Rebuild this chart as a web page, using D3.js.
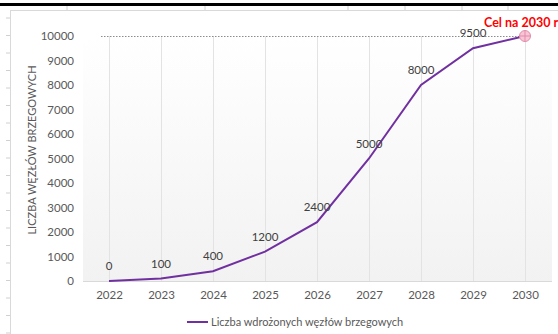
<!DOCTYPE html>
<html>
<head>
<meta charset="utf-8">
<script src="https://cdn.jsdelivr.net/npm/d3@7"></script>
<style>
  html, body { margin: 0; padding: 0; background: #fff; }
  svg { display: block; font-family: Lato, "Open Sans", sans-serif; }
</style>
</head>
<body>
<div id="chart"></div>
<script>
  var years = ['2022', '2023', '2024', '2025', '2026', '2027', '2028', '2029', '2030'];
  var nodes = [0, 100, 400, 1200, 2400, 5000, 8000, 9500, 10000];
  var yTicks = [0, 1000, 2000, 3000, 4000, 5000, 6000, 7000, 8000, 9000, 10000];
  var target = 10000;
  var seriesName = 'Liczba wdrożonych węzłów brzegowych';
  var targetLabel = 'Cel na 2030 r';
  var yTitle = 'LICZBA WĘZŁÓW BRZEGOWYCH';

  var width = 558, height = 334;
  var purple = '#7030a0', grey = '#595959';

  var svg = d3.select('#chart')
    .append('svg')
    .attr('width', width)
    .attr('height', height);

  // screenshot frame bits
  svg.append('rect').attr('x', 0).attr('y', 3).attr('width', width).attr('height', 3).attr('fill', '#000');
  svg.append('line').attr('x1', 10.5).attr('x2', 10.5).attr('y1', 10).attr('y2', height)
    .attr('stroke', '#d9d9d9');
  svg.append('line').attr('x1', 10).attr('x2', width).attr('y1', 10.5).attr('y2', 10.5)
    .attr('stroke', '#d9d9d9');
  d3.range(18, height, 17.5).forEach(function (y) {
    svg.append('line').attr('x1', 6).attr('x2', 10).attr('y1', y).attr('y2', y).attr('stroke', '#d0d0d0');
  });
  [67, 205, 348, 405, 462, 508].forEach(function (x) {
    svg.append('line').attr('x1', x).attr('x2', x).attr('y1', 6).attr('y2', 10).attr('stroke', '#d0d0d0');
  });

  var x = d3.scalePoint().domain(years).range([109, 525]);
  var y = d3.scaleLinear().domain([0, 10000]).range([281, 36]);

  var defs = svg.append('defs');
  var grad = defs.append('linearGradient').attr('id', 'bg').attr('x1', 0).attr('x2', 0).attr('y1', 0).attr('y2', 1);
  grad.append('stop').attr('offset', '0%').attr('stop-color', '#ffffff');
  grad.append('stop').attr('offset', '100%').attr('stop-color', '#f2f2f2');

  svg.append('rect')
    .attr('x', 83).attr('y', 36)
    .attr('width', 469).attr('height', 245)
    .attr('fill', 'url(#bg)');

  // vertical gridlines
  svg.append('g')
    .selectAll('line')
    .data(years)
    .enter()
    .append('line')
    .attr('x1', function (d) { return x(d) + 0.5; })
    .attr('x2', function (d) { return x(d) + 0.5; })
    .attr('y1', y(10000))
    .attr('y2', y(0))
    .attr('stroke', '#e3e3e3');

  // x axis line
  svg.append('line')
    .attr('x1', 83).attr('x2', 552)
    .attr('y1', y(0) + 0.5).attr('y2', y(0) + 0.5)
    .attr('stroke', '#d9d9d9');

  // tick labels
  var xAxis = svg.append('g')
    .attr('transform', 'translate(0,' + y(0) + ')')
    .call(d3.axisBottom(x).tickSize(0).tickPadding(10));
  xAxis.select('.domain').remove();
  xAxis.selectAll('text').attr('fill', grey).attr('font-size', 11.5).attr('font-family', 'Lato, sans-serif');

  var yAxis = svg.append('g')
    .attr('transform', 'translate(74,0)')
    .call(d3.axisLeft(y).tickValues(yTicks).tickSize(0).tickPadding(0).tickFormat(d3.format('d')));
  yAxis.select('.domain').remove();
  yAxis.selectAll('text').attr('fill', grey).attr('font-size', 11.5).attr('font-family', 'Lato, sans-serif');

  svg.append('text')
    .attr('transform', 'translate(36,' + 150 + ') rotate(-90)')
    .attr('text-anchor', 'middle')
    .attr('fill', grey)
    .attr('font-size', 11)
    .text(yTitle);

  // target dotted line
  svg.append('line')
    .attr('x1', 101).attr('x2', x('2030'))
    .attr('y1', y(target) + 0.5).attr('y2', y(target) + 0.5)
    .attr('stroke', '#8c8c8c')
    .attr('stroke-width', 1)
    .attr('stroke-dasharray', '1.5,1.5');

  var line = d3.line()
    .x(function (d, i) { return x(years[i]); })
    .y(function (d) { return y(d); });

  svg.append('path')
    .datum(nodes)
    .attr('d', line)
    .attr('fill', 'none')
    .attr('stroke', purple)
    .attr('stroke-width', 2);

  // data labels (all but the target year)
  svg.append('g')
    .selectAll('text')
    .data(nodes.slice(0, -1))
    .enter()
    .append('text')
    .attr('x', function (d, i) { return x(years[i]); })
    .attr('y', function (d) { return y(d) - 11; })
    .attr('text-anchor', 'middle')
    .attr('fill', '#404040')
    .attr('font-size', 11.5)
    .text(function (d) { return d; });

  // target marker
  var tx = x('2030'), ty = y(target);
  var marker = svg.append('g').attr('transform', 'translate(' + tx + ',' + ty + ')');
  marker.append('circle').attr('r', 5.5).attr('fill', '#f6c6d6').attr('stroke', '#e58aa8').attr('stroke-width', 1);
  marker.append('line').attr('x1', -5.5).attr('x2', 5.5).attr('stroke', '#e58aa8');
  marker.append('line').attr('y1', -5.5).attr('y2', 5.5).attr('stroke', '#e58aa8');

  svg.append('text')
    .attr('x', 484)
    .attr('y', 27)
    .attr('fill', '#ff0000')
    .attr('font-weight', 'bold')
    .attr('font-size', 12.5)
    .text(targetLabel);

  // legend
  var legend = svg.append('g').attr('transform', 'translate(187,322)');
  legend.append('line').attr('x1', 0).attr('x2', 21).attr('stroke', purple).attr('stroke-width', 2);
  legend.append('text')
    .attr('x', 24).attr('y', 4)
    .attr('fill', grey)
    .attr('font-size', 11)
    .text(seriesName);
</script>
</body>
</html>
